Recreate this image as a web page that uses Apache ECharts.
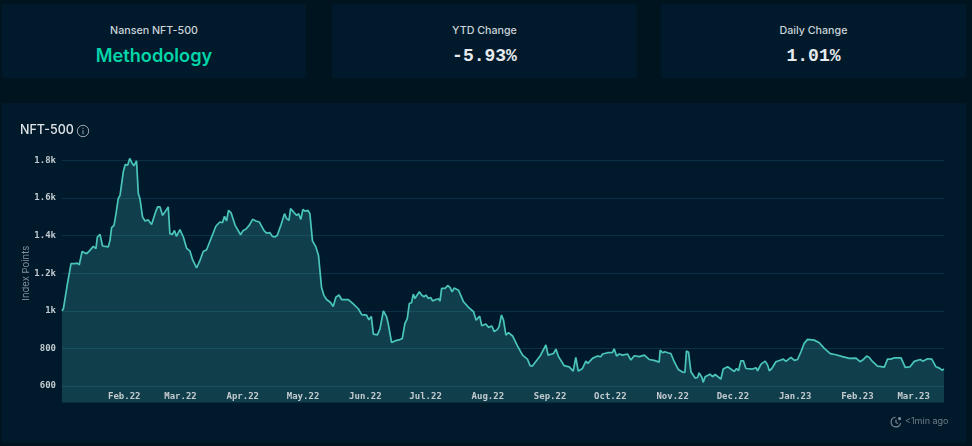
<!DOCTYPE html>
<html>
<head>
<meta charset="utf-8">
<script src="https://cdn.jsdelivr.net/npm/echarts@6/dist/echarts.min.js"></script>
<style>
html, body { margin: 0; width: 972px; height: 446px; overflow: hidden; background: #00141f; font-family: Inter, sans-serif; }
.card { position: absolute; top: 4px; height: 74px; background: #001a2c; text-align: center; border-radius: 2px; }
.card .label { position: absolute; left: 0; right: 0; top: 20px; font-size: 10.7px; line-height: 14px; font-weight: 500; color: #ccd3d8; }
.card .big { position: absolute; left: 0; right: 0; top: 40px; font-size: 18px; line-height: 24px; font-weight: 700; color: #e6eaed; font-family: "Liberation Mono", monospace; }
.card .big.link { top: 39px; font-family: Inter, sans-serif; font-weight: 600; font-size: 18.2px; color: #00d4a8; }
#panel { position: absolute; left: 2px; top: 103px; width: 964px; height: 340px; background: #001a2c; border-radius: 2px; }
#chart { position: absolute; left: 0; top: 0; width: 972px; height: 446px; }
.icon { position: absolute; }
</style>
</head>
<body>
<div class="card" style="left:2px;width:304px"><div class="label">Nansen NFT-500</div><div class="big link">Methodology</div></div>
<div class="card" style="left:332px;width:305px"><div class="label">YTD Change</div><div class="big">-5.93%</div></div>
<div class="card" style="left:661px;width:305px"><div class="label">Daily Change</div><div class="big">1.01%</div></div>
<div id="panel"></div>
<div id="chart"></div>
<svg class="icon" style="left:76px;top:124px" width="14" height="14" viewBox="0 0 14 14" fill="none" stroke="#9aa5ad" stroke-width="1">
    <circle cx="7" cy="7" r="5.7"/><path d="M7 6.2V10.2M7 3.8V4.9"/>
</svg>
<svg class="icon" style="left:890px;top:416px" width="12" height="12" viewBox="0 0 12 12" fill="none" stroke="#7f8c95" stroke-width="1.1">
    <path d="M10.6 7.2A4.8 4.8 0 1 1 5.6 1.3M6 3.6V6.4L8 7.6"/><circle cx="9.6" cy="2.6" r="1" fill="#7f8c95"/>
</svg>
<script>
// days since 1 Jan 2022
const days = [
    0, 0.7, 1.5, 2.7, 3.6, 4.5, 6.5, 7.6, 8.6, 10, 12.3, 13.9, 15.6, 16.9, 17.6, 18.9, 20.2, 23, 23.9, 24.7,
    25.9, 26.9, 28, 28.9, 30.5, 31.5, 32.7, 33.7, 35, 35.8, 37.1, 38, 38.8, 40.1, 41.3, 42.9, 44.6, 45.4, 46.6, 47.6,
    48.8, 50.1, 52.9, 53.7, 55, 56, 57, 58.7, 60.4, 62, 63.7, 65, 67, 68.7, 70.3, 72, 74.5, 76.6, 78.6, 79.9,
    80.9, 81.9, 82.9, 84.2, 86.2, 88.9, 90.2, 91.5, 93.2, 94.9, 96.5, 98.2, 100.5, 101.8, 103.5, 104.8, 106, 107.2, 109.1, 109.8,
    110.8, 111.8, 113, 113.8, 115.5, 116.8, 117.8, 118.9, 119.9, 121.1, 122.4, 123.4, 124.7, 126.4, 127.7, 128.4, 129.2, 130.4, 131.7, 133.7,
    135, 136.4, 137.9, 139.2, 142.5, 145, 147.5, 149.2, 151.6, 152.8, 154, 155, 157, 158.3, 160, 161.6, 162.4, 164.1, 165.7, 168.2,
    169.4, 170.7, 171.9, 172.9, 174, 174.9, 175.7, 177.9, 179, 180.2, 181.2, 182.4, 183.5, 184.5, 186.2, 187.4, 188.2, 189, 190.7, 192,
    193.2, 194.2, 195.2, 197.4, 199.9, 202.4, 204.9, 206.2, 207.9, 209, 211, 212.3, 214, 215.2, 216.8, 217.6, 218.8, 219.8, 221, 222.3,
    224.3, 226.8, 229.3, 231.8, 233, 234.2, 236.2, 237, 238, 238.9, 240.9, 242, 244.7, 245.9, 247.2, 250, 252.5, 254.5, 255.8, 257,
    259.1, 260.8, 261.8, 264.1, 266.6, 268.3, 269.1, 271.6, 274.1, 274.9, 276.1, 277.4, 279.1, 281.6, 283.2, 284.9, 287.4, 289.9, 292.3, 294.8,
    297.3, 297.8, 299, 300.1, 301.5, 303.1, 304.8, 306.8, 308.9, 310.1, 310.9, 311.9, 313.1, 315.2, 316.4, 317.2, 318.6, 319.2, 320.2, 322.6,
    323.9, 325.2, 328, 329.2, 331.4, 334.7, 335.8, 336.8, 338, 339.2, 340.5, 343.8, 344.6, 345.5, 346.3, 348, 350.1, 351.3, 352.1, 353.4,
    355.4, 357.9, 359.1, 360.4, 362.9, 364.6, 366.2, 367.9, 369.5, 371.2, 374.5, 377, 379.5, 382.5, 385.3, 388.6, 391.9, 395.3, 397.3, 398.6,
    400.6, 401.9, 403.6, 406, 409.4, 411, 412.7, 414.4, 417.7, 419.8, 422.2, 424.3, 427.3, 428.5, 431, 433, 435.1, 436.8, 438.1, 439.1
];
const indexPoints = [
    1000, 1011, 1064, 1144, 1153, 1251, 1251, 1254, 1245, 1316, 1304, 1322, 1343, 1331, 1393, 1407, 1345, 1340, 1375, 1443,
    1455, 1517, 1597, 1615, 1740, 1779, 1775, 1811, 1784, 1772, 1798, 1624, 1597, 1500, 1478, 1484, 1460, 1460, 1526, 1553,
    1553, 1508, 1553, 1411, 1407, 1428, 1396, 1432, 1393, 1334, 1318, 1272, 1228, 1268, 1316, 1325, 1393, 1450, 1473, 1469,
    1503, 1478, 1535, 1521, 1455, 1405, 1428, 1434, 1455, 1487, 1478, 1473, 1428, 1414, 1416, 1396, 1393, 1402, 1459, 1450,
    1517, 1491, 1482, 1544, 1523, 1508, 1517, 1487, 1539, 1530, 1535, 1517, 1372, 1340, 1295, 1215, 1126, 1082, 1060, 1044,
    1023, 1073, 1084, 1060, 1060, 1037, 1011, 980, 977, 952, 970, 876, 872, 904, 1000, 968, 932, 831, 840, 847,
    852, 932, 959, 1039, 1043, 1089, 1066, 1101, 1084, 1075, 1084, 1066, 1071, 1053, 1060, 1064, 1052, 1119, 1119, 1135,
    1124, 1101, 1121, 1110, 1048, 1018, 995, 950, 972, 920, 930, 912, 919, 889, 901, 916, 978, 951, 871, 884,
    866, 812, 764, 741, 708, 706, 734, 725, 759, 752, 818, 764, 773, 796, 756, 708, 702, 679, 752, 679,
    693, 732, 720, 747, 759, 756, 770, 777, 779, 798, 759, 770, 764, 770, 738, 761, 756, 764, 741, 736,
    727, 791, 777, 782, 777, 773, 729, 688, 674, 672, 786, 780, 676, 642, 645, 670, 645, 619, 649, 663,
    649, 661, 636, 690, 702, 677, 693, 681, 734, 734, 693, 690, 681, 697, 681, 716, 732, 711, 681, 693,
    729, 738, 743, 731, 752, 736, 741, 782, 827, 848, 844, 830, 800, 772, 766, 756, 747, 748, 729, 738,
    759, 752, 729, 706, 700, 743, 743, 750, 750, 699, 702, 731, 741, 732, 745, 743, 702, 695, 684, 690
];
const xTickDays = [31, 59, 90, 120, 151, 181, 212, 243, 273, 304, 334, 365, 396, 424];
const xTickLabels = [
    "Feb.22", "Mar.22", "Apr.22", "May.22", "Jun.22", "Jul.22", "Aug.22",
    "Sep.22", "Oct.22", "Nov.22", "Dec.22", "Jan.23", "Feb.23", "Mar.23"
];
const yTicks = [600, 800, 1000, 1200, 1400, 1600, 1800];

const myChart = echarts.init(document.getElementById("chart"));
myChart.setOption({
    animation: false,
    backgroundColor: "transparent",
    title: {
        text: "NFT-500",
        left: 20,
        top: 124,
        padding: 0,
        textStyle: { fontFamily: "Inter", fontSize: 12.5, fontWeight: 500, color: "#dfe4e7" },
    },
    graphic: [
        {
            type: "text",
            left: 905,
            top: 417,
            style: { text: "<1min ago", fontFamily: "Inter", fontSize: 9, fill: "#6f7d87" },
        },
    ],
    grid: { left: 62, right: 28, top: 150, bottom: 43.5 },
    xAxis: {
        type: "value",
        min: days[0],
        max: days[days.length - 1],
        z: 5,
        axisLine: { show: false },
        axisTick: { show: false, customValues: xTickDays },
        splitLine: { show: false },
        axisLabel: {
            inside: true,
            margin: 1,
            customValues: xTickDays,
            fontFamily: "DejaVu Sans Mono",
            fontSize: 9,
            fontWeight: "bold",
            color: "#c3cbd0",
            formatter: (value) => xTickLabels[xTickDays.indexOf(value)],
        },
    },
    yAxis: {
        type: "value",
        min: 512,
        max: 1856,
        name: "Index Points",
        nameLocation: "middle",
        nameGap: 31,
        nameMoveOverlap: false,
        nameTextStyle: { fontFamily: "Inter", fontSize: 9.5, color: "#84929c", padding: [0, 0, 0, 6] },
        axisLine: { show: false },
        axisTick: { show: false, customValues: yTicks },
        splitLine: { lineStyle: { color: "#0c3146", width: 1 } },
        axisLabel: {
            customValues: yTicks,
            margin: 6,
            fontFamily: "DejaVu Sans Mono",
            fontSize: 9,
            fontWeight: "bold",
            color: "#c3cbd0",
            formatter: (v) => (v >= 1000 ? v / 1000 + "k" : String(v)),
        },
    },
    series: [
        {
            type: "line",
            data: days.map((d, i) => [d, indexPoints[i]]),
            showSymbol: false,
            lineStyle: { color: "#4ac5ba", width: 1.7 },
            areaStyle: { color: "rgba(74,197,186,0.31)", origin: "start" },
        },
    ],
});
</script>
</body>
</html>
